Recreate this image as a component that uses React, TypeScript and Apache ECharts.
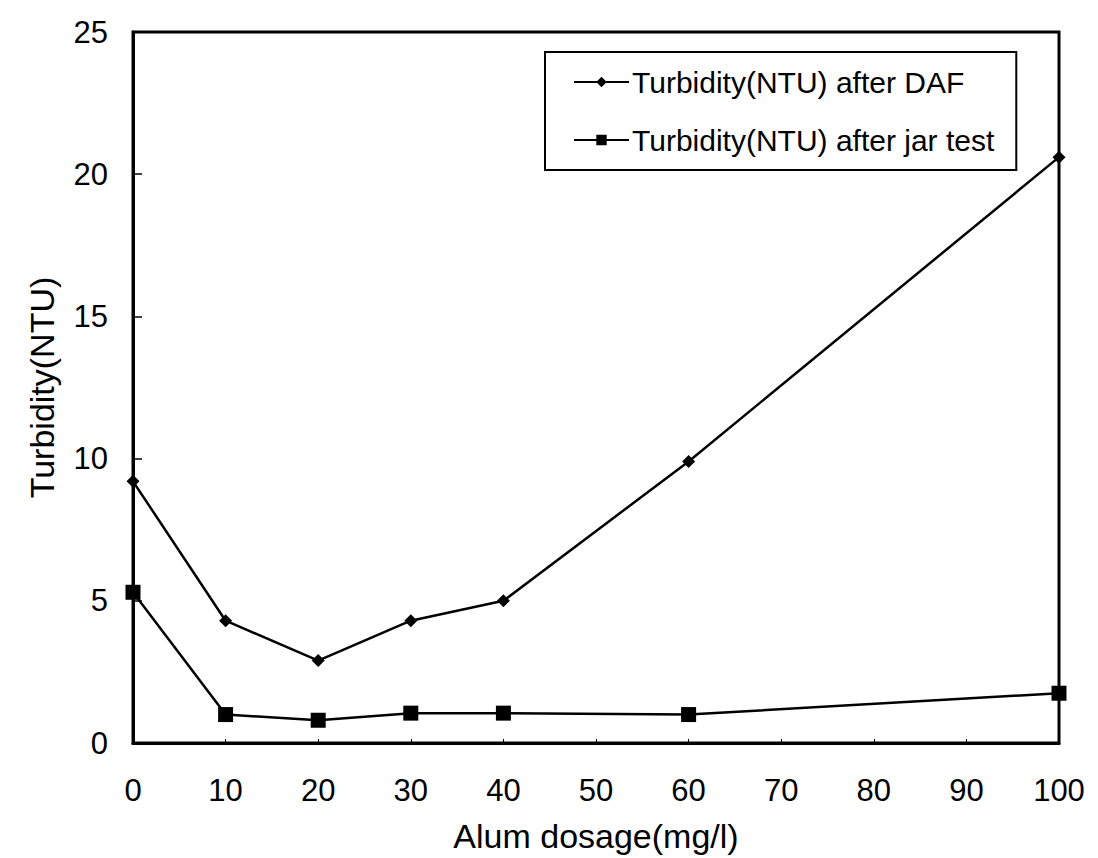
import React, { useEffect, useRef } from "react";
import * as echarts from "echarts";

// Alum dosage (mg/l) on the x axis
const dosage = [0, 10, 20, 30, 40, 60, 100];
// Turbidity (NTU) measured after dissolved air flotation
const turbidityDAF = [9.2, 4.3, 2.9, 4.3, 5.0, 9.9, 20.6];
// Turbidity (NTU) measured after the jar test
const turbidityJar = [5.3, 1.0, 0.8, 1.05, 1.05, 1.0, 1.75];

const seriesNames = ["Turbidity(NTU) after DAF", "Turbidity(NTU) after jar test"];
const xTitle = "Alum dosage(mg/l)";
const yTitle = "Turbidity(NTU)";

const FONT = 'Arial, "Liberation Sans", Helvetica, sans-serif';

export default function App() {
  const ref = useRef<HTMLDivElement>(null);

  useEffect(() => {
    if (!ref.current) return;
    document.body.style.margin = "0";
    document.body.style.overflow = "hidden";
    const chart = echarts.init(ref.current, undefined, { renderer: "svg" });

    const pairs = (ys: number[]) => dosage.map((x, i) => [x, ys[i]]);

    chart.setOption({
      animation: false,
      backgroundColor: "#fff",
      textStyle: { fontFamily: FONT, color: "#000" },
      grid: {
        left: 133,
        top: 32,
        width: 926,
        height: 720,
        show: true,
        borderColor: "#000",
        borderWidth: 3,
        backgroundColor: "transparent",
      },
      legend: {
        orient: "vertical",
        left: 545,
        top: 52,
        padding: [15, 22, 15, 28],
        itemGap: 28,
        itemWidth: 55,
        itemHeight: 13,
        borderColor: "#000",
        borderWidth: 2,
        borderRadius: 0,
        backgroundColor: "#fff",
        textStyle: { fontFamily: FONT, fontSize: 30, color: "#000", lineHeight: 30, padding: [0, 0, 0, -2] },
        data: seriesNames,
      },
      xAxis: {
        type: "value",
        min: 0,
        max: 100,
        interval: 10,
        name: xTitle,
        nameLocation: "middle",
        nameGap: 76,
        nameTextStyle: { fontFamily: FONT, fontSize: 34, color: "#000" },
        axisLine: { show: true, lineStyle: { color: "#000", width: 3 } },
        axisTick: { show: true, inside: true, length: 4, lineStyle: { color: "#000", width: 1 } },
        axisLabel: { fontFamily: FONT, fontSize: 31, color: "#000", margin: 32 },
        splitLine: { show: false },
      },
      yAxis: {
        type: "value",
        min: 0,
        max: 25,
        interval: 5,
        name: yTitle,
        nameLocation: "middle",
        nameGap: 74,
        nameRotate: 90,
        nameTextStyle: { fontFamily: FONT, fontSize: 34, color: "#000" },
        axisLine: { show: true, lineStyle: { color: "#000", width: 3 } },
        axisTick: { show: true, inside: true, length: 9, lineStyle: { color: "#000", width: 1.5 } },
        axisLabel: { fontFamily: FONT, fontSize: 31, color: "#000", margin: 25 },
        splitLine: { show: false },
      },
      series: [
        {
          name: seriesNames[0],
          type: "line",
          data: pairs(turbidityDAF),
          symbol: "diamond",
          symbolSize: 13,
          lineStyle: { color: "#000", width: 2.5 },
          itemStyle: { color: "#000" },
          clip: false,
          z: 3,
        },
        {
          name: seriesNames[1],
          type: "line",
          data: pairs(turbidityJar),
          symbol: "rect",
          symbolSize: 15,
          lineStyle: { color: "#000", width: 2.5 },
          itemStyle: { color: "#000" },
          clip: false,
          z: 3,
        },
      ],
    });

    return () => chart.dispose();
  }, []);

  return (
    <div
      ref={ref}
      style={{ position: "absolute", left: 0, top: 0, width: 1098, height: 858, background: "#fff" }}
    />
  );
}
